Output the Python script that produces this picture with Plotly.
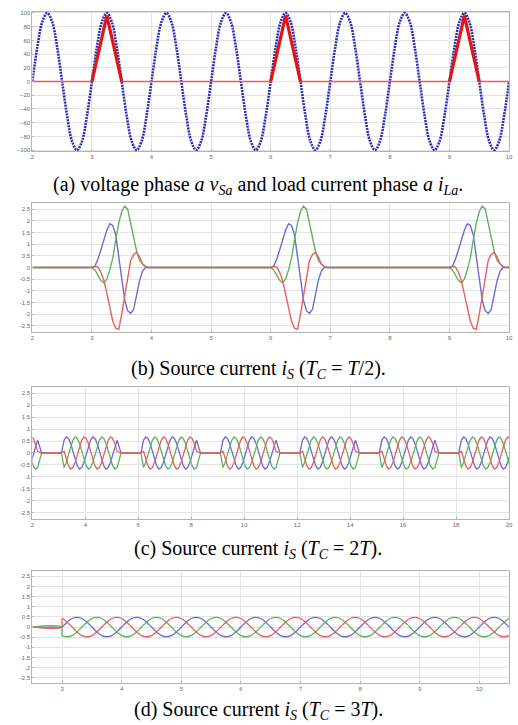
import plotly.graph_objects as go

W, H = 518, 725

# ---------------- Panel (a): v_Sa and i_La ----------------
a_x_start = 2.0
a_step = 1 / 12                       # sample spacing (one cycle = 1 unit)
a_cycles = 8
va_cycle = [0, 50, 87, 100, 87, 50, 0, -50, -87, -100, -87, -50]
ila_pulse_starts = [3, 6, 9]
ila_pulse_width = 0.5
ila_pulse_peak = 96
a_xrange = [2, 10]
a_yrange = [-101.5, 101.5]
a_xticks = [2, 3, 4, 5, 6, 7, 8, 9, 10]
a_yticks = [100, 80, 60, 40, 20, 0, -20, -40, -60, -80, -100]

# ---------------- Panel (b): i_S, Tc = T/2 ----------------
b_burst_starts = [3, 6, 9]
b_step = 0.05
b_blue = [0, 0.05, 0.35, 0.75, 1.2, 1.6, 1.88, 1.8, 1.4, 0.4, -0.5, -1.4,
          -1.85, -1.97, -1.8, -1.2, -0.55, -0.15, 0, 0]
b_green = [0, -0.1, -0.35, -0.55, -0.65, -0.5, -0.1, 0.4, 1.2, 1.9, 2.4, 2.63,
           2.5, 1.95, 1.3, 0.7, 0.3, 0.15, 0.05, 0]
b_red = [0, 0.05, 0.02, -0.2, -0.55, -1.1, -1.75, -2.3, -2.6, -2.65, -2.0, -1.2,
         -0.3, 0.3, 0.55, 0.65, 0.45, 0.15, 0.03, 0]
b_xrange = [2, 10]
b_xticks = [2, 3, 4, 5, 6, 7, 8, 9, 10]

# ---------------- Panel (c): i_S, Tc = 2T ----------------
c_burst_starts = [0.1, 3.1, 6.1, 9.1, 12.1, 15.1, 18.1]
c_ramp_in = 0.1
c_ramp_out_end = 2.25
c_step = 1 / 12
c_cycles = 2
c_blue = [0.54, 0.67, 0.61, 0.39, 0.07, -0.27, -0.54, -0.67, -0.61, -0.39, -0.07, 0.27]
c_green = [-0.61, -0.39, -0.07, 0.27, 0.54, 0.67, 0.61, 0.39, 0.07, -0.27, -0.54, -0.67]
c_red = [0.07, -0.27, -0.54, -0.67, -0.61, -0.39, -0.07, 0.27, 0.54, 0.67, 0.61, 0.39]
c_xrange = [2, 20]
c_xticks = [2, 4, 6, 8, 10, 12, 14, 16, 18, 20]

# ---------------- Panel (d): i_S, Tc = 3T ----------------
d_on_time = 3.0
d_step = 1 / 12
d_cycles = 8
d_blue = [0, 0.24, 0.42, 0.48, 0.42, 0.24, 0, -0.24, -0.42, -0.48, -0.42, -0.24]
d_green = [-0.42, -0.48, -0.42, -0.24, 0, 0.24, 0.42, 0.48, 0.42, 0.24, 0, -0.24]
d_red = [0.42, 0.24, 0, -0.24, -0.42, -0.48, -0.42, -0.24, 0, 0.24, 0.42, 0.48]
d_xrange = [2.5, 10.5]
d_xticks = [3, 4, 5, 6, 7, 8, 9, 10]

cur_yrange = [-2.77, 2.77]
cur_yticks = [2.5, 2, 1.5, 1, 0.5, 0, -0.5, -1, -1.5, -2, -2.5]
cur_yticktext = ["2.5", "2", "1.5", "1", "0.5", "0", "-0.5", "-1", "-1.5", "-2", "-2.5"]

captions = [
    "(a) voltage phase <i>a v</i><sub><i>Sa</i></sub> and load current phase <i>a i</i><sub><i>La</i></sub>.",
    "(b) Source current <i>i</i><sub><i>S</i></sub> (<i>T</i><sub><i>C</i></sub> = <i>T</i>/2).",
    "(c) Source current <i>i</i><sub><i>S</i></sub> (<i>T</i><sub><i>C</i></sub> = 2<i>T</i>).",
    "(d) Source current <i>i</i><sub><i>S</i></sub> (<i>T</i><sub><i>C</i></sub> = 3<i>T</i>).",
]

BLUE = "#6b6bd6"
GREEN = "#5db35d"
RED = "#e66060"

fig = go.Figure()

# ---- (a)
va = va_cycle * a_cycles + [va_cycle[0]]
xa = [a_x_start + i * a_step for i in range(len(va))]
fig.add_trace(go.Scatter(x=xa, y=va, mode="lines", xaxis="x", yaxis="y",
                         line=dict(color="#2b2bb8", width=2.6, dash="2px,1px",
                                   shape="spline", smoothing=1.0)))
rx, ry = [a_xrange[0]], [0]
tx, ty = [], []
for s in ila_pulse_starts:
    pts = [(s, 0), (s + ila_pulse_width / 2, ila_pulse_peak), (s + ila_pulse_width, 0)]
    for px, py in pts:
        rx.append(px); ry.append(py)
        tx.append(px); ty.append(py)
    tx.append(None); ty.append(None)
rx.append(a_xrange[1]); ry.append(0)
fig.add_trace(go.Scatter(x=rx, y=ry, mode="lines", xaxis="x", yaxis="y",
                         line=dict(color="#f05a5a", width=1.6)))
fig.add_trace(go.Scatter(x=tx, y=ty, mode="lines", xaxis="x", yaxis="y",
                         line=dict(color="#e01515", width=3.2)))


def burst_series(starts, offsets, values, x0, x1):
    xs, ys = [x0], [0]
    for s in starts:
        for o, v in zip(offsets, values):
            xs.append(s + o)
            ys.append(v)
    xs.append(x1)
    ys.append(0)
    return xs, ys


# ---- (b)
b_off = [i * b_step for i in range(len(b_blue))]
for vals, col in [(b_blue, BLUE), (b_green, GREEN), (b_red, RED)]:
    xs, ys = burst_series(b_burst_starts, b_off, vals, b_xrange[0], b_xrange[1])
    fig.add_trace(go.Scatter(x=xs, y=ys, mode="lines", xaxis="x2", yaxis="y2",
                             line=dict(color=col, width=1.4)))

# ---- (c)
n_c = len(c_blue) * c_cycles + 1
c_off = [0] + [c_ramp_in + k * c_step for k in range(n_c)] + [c_ramp_out_end]
for cyc, col in [(c_blue, BLUE), (c_green, GREEN), (c_red, RED)]:
    vals = [0] + cyc * c_cycles + [cyc[0]] + [0]
    xs, ys = burst_series(c_burst_starts, c_off, vals, 0, c_xrange[1] + 1)
    fig.add_trace(go.Scatter(x=xs, y=ys, mode="lines", xaxis="x3", yaxis="y3",
                             line=dict(color=col, width=1.3)))

# ---- (d)
for cyc, col in [(d_blue, BLUE), (d_green, GREEN), (d_red, RED)]:
    vals = cyc * d_cycles
    xs = [d_xrange[0], d_on_time - 0.01] + [d_on_time + k * d_step for k in range(len(vals))]
    ys = [0, 0] + vals
    fig.add_trace(go.Scatter(x=xs, y=ys, mode="lines", xaxis="x4", yaxis="y4",
                             line=dict(color=col, width=1.3, shape="spline", smoothing=0.8)))

# ---- layout
xdom = [30.7 / W, 513 / W]
boxes = [(10, 150), (202, 332), (387, 520), (572, 685)]
ydoms = [[1 - b / H, 1 - t / H] for t, b in boxes]

tickfont = dict(family="Liberation Sans, Arial, sans-serif", size=6, color="#6a6a6a")
axcommon = dict(showline=True, mirror=True, linecolor="#b4b4b4", linewidth=1,
                showgrid=True, gridcolor="#e4e4e4", gridwidth=1, zeroline=False,
                ticks="inside", ticklen=2, tickcolor="#b4b4b4", tickfont=tickfont)

xr = [a_xrange, b_xrange, c_xrange, d_xrange]
xt = [a_xticks, b_xticks, c_xticks, d_xticks]
layout = dict(width=W, height=H, margin=dict(l=0, r=0, t=0, b=0),
              paper_bgcolor="white", plot_bgcolor="white", showlegend=False)
for i in range(4):
    sx = "" if i == 0 else str(i + 1)
    layout["xaxis" + sx] = dict(domain=xdom, range=xr[i], tickvals=xt[i],
                                anchor="y" + sx, **axcommon)
    if i == 0:
        ya = dict(range=a_yrange, tickvals=a_yticks)
    else:
        ya = dict(range=cur_yrange, tickvals=cur_yticks, ticktext=cur_yticktext)
    layout["yaxis" + sx] = dict(domain=ydoms[i], anchor="x" + sx, **ya, **axcommon)

cap_y = [185, 370, 551, 712]
layout["annotations"] = [
    dict(text=captions[i], xref="paper", yref="paper", x=0.5, y=1 - cap_y[i] / H,
         xanchor="center", yanchor="middle", showarrow=False,
         font=dict(family="Liberation Serif", size=20, color="black"))
    for i in range(4)
]
fig.update_layout(**layout)
fig.write_html("out.html")
